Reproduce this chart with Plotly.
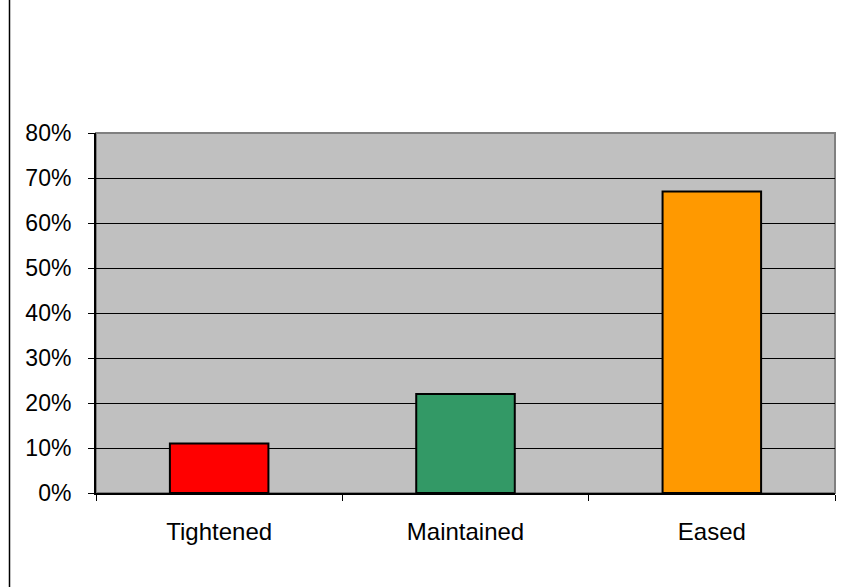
import plotly.graph_objects as go

categories = ["Tightened", "Maintained", "Eased"]
values = [0.11, 0.22, 0.67]
colors = ["#FF0000", "#339966", "#FF9900"]
y_ticks = [0, 0.1, 0.2, 0.3, 0.4, 0.5, 0.6, 0.7, 0.8]

fig = go.Figure()
fig.add_trace(go.Bar(
    x=categories, y=values,
    marker=dict(color=colors, line=dict(color="black", width=2)),
    width=0.4,
))

L, R, T, B = 96, 14, 133, 94
W, H = 849, 587
pw, ph = W - L - R, H - T - B

fig.update_layout(
    width=W, height=H,
    margin=dict(l=L, r=R, t=T, b=B, pad=0),
    paper_bgcolor="white",
    plot_bgcolor="#C0C0C0",
    showlegend=False,
    font=dict(family="Liberation Sans, Arial, sans-serif", size=24, color="black"),
    bargap=0.6,
    xaxis=dict(
        type="category",
        showline=True, linecolor="black", linewidth=2,
        ticks="outside", ticklen=6, tickcolor="black", tickwidth=1,
        tickson="boundaries",
        showgrid=False,
        ticklabelstandoff=16,
        tickfont=dict(size=24),
    ),
    yaxis=dict(
        range=[0, 0.8],
        tickvals=y_ticks,
        tickformat=".0%",
        showline=True, linecolor="black", linewidth=2,
        ticks="outside", ticklen=6, tickcolor="black", tickwidth=1,
        showgrid=True, gridcolor="black", gridwidth=1,
        zeroline=False,
        ticklabelstandoff=12,
        tickfont=dict(size=23),
    ),
    shapes=[
        dict(type="rect", xref="x domain", yref="y domain", x0=0, x1=1, y0=0, y1=1,
             line=dict(color="#808080", width=2), fillcolor="rgba(0,0,0,0)", layer="below"),
        dict(type="line", xref="paper", yref="paper",
             x0=(9.5 - L) / pw, x1=(9.5 - L) / pw,
             y0=-B / ph, y1=1 + T / ph,
             line=dict(color="black", width=1.5)),
    ],
)

fig.write_html("out.html")
